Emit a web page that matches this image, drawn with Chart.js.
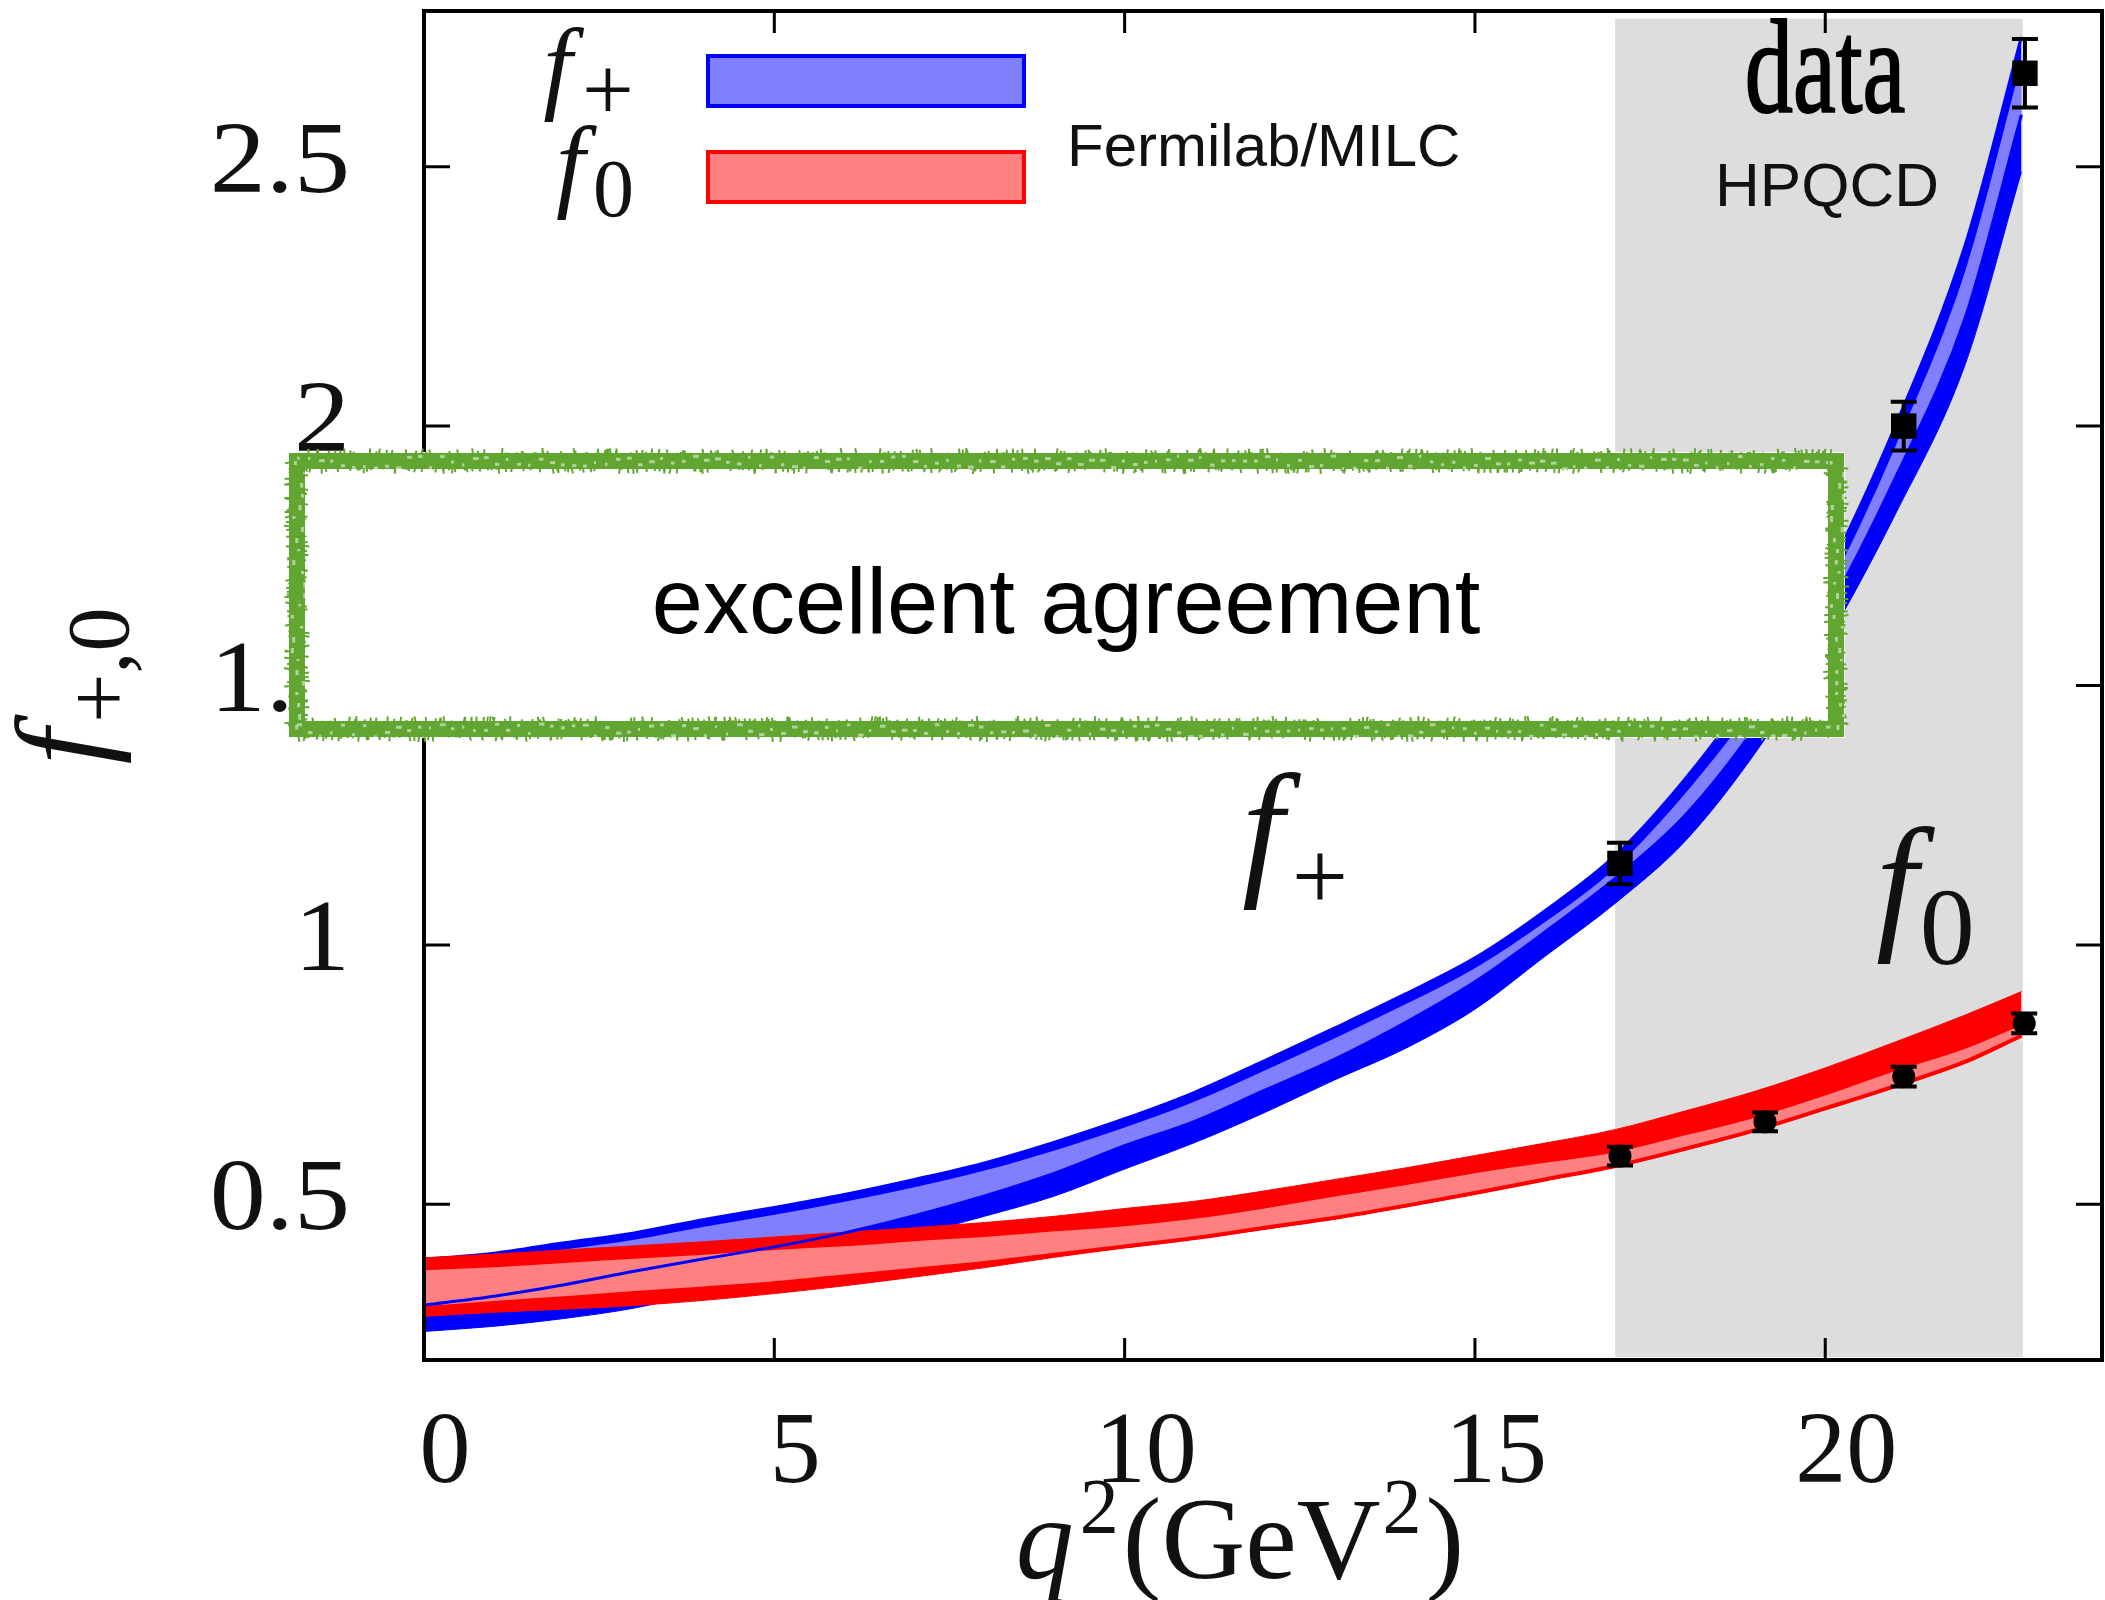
<!DOCTYPE html>
<html>
<head>
<meta charset="utf-8">
<title>Factores de forma f+ y f0</title>
<script src="https://cdn.jsdelivr.net/npm/chart.js@4.4.1/dist/chart.umd.min.js"></script>
<style>
  html, body { margin: 0; padding: 0; background: #fff; }
  #grafico { display: block; }
</style>
</head>
<body>
<canvas id="grafico" width="2105" height="1600"></canvas>
<script>
// q^2 (GeV^2) donde se leen las bandas
const q2 = [0, 1, 2, 3, 4, 5, 6, 7, 8, 9, 10, 11, 12, 13, 14, 15, 16, 17, 18, 19, 20, 21, 22, 22.8];

// banda f+ (Fermilab/MILC): borde exterior y zona clara interior
const fpAlto   = [0.394, 0.406, 0.426, 0.445, 0.471, 0.494, 0.519, 0.548, 0.580, 0.620, 0.665, 0.716, 0.777, 0.840, 0.905, 0.975, 1.066, 1.172, 1.320, 1.500, 1.710, 2.000, 2.350, 2.750];
const fpBajo   = [0.255, 0.265, 0.280, 0.300, 0.330, 0.360, 0.400, 0.440, 0.477, 0.516, 0.568, 0.619, 0.677, 0.740, 0.800, 0.876, 0.978, 1.080, 1.200, 1.370, 1.580, 1.830, 2.120, 2.490];
const fpInAlto = [0.382, 0.394, 0.413, 0.432, 0.457, 0.480, 0.505, 0.533, 0.565, 0.604, 0.648, 0.698, 0.758, 0.820, 0.885, 0.955, 1.044, 1.148, 1.292, 1.465, 1.675, 1.960, 2.300, 2.700];
const fpInBajo = [0.306, 0.323, 0.345, 0.371, 0.395, 0.418, 0.445, 0.478, 0.516, 0.560, 0.613, 0.660, 0.720, 0.780, 0.850, 0.929, 1.025, 1.128, 1.250, 1.420, 1.635, 1.900, 2.210, 2.600];

// banda f0 (Fermilab/MILC)
const f0Alto   = [0.397, 0.404, 0.412, 0.420, 0.428, 0.437, 0.446, 0.455, 0.465, 0.477, 0.492, 0.506, 0.526, 0.548, 0.570, 0.594, 0.618, 0.644, 0.680, 0.718, 0.763, 0.813, 0.865, 0.910];
const f0InAlto = [0.373, 0.379, 0.387, 0.395, 0.403, 0.412, 0.419, 0.429, 0.437, 0.448, 0.458, 0.472, 0.492, 0.515, 0.537, 0.560, 0.580, 0.600, 0.633, 0.667, 0.710, 0.757, 0.800, 0.845];
const f0InBajo = [0.300, 0.310, 0.319, 0.329, 0.338, 0.348, 0.361, 0.374, 0.387, 0.403, 0.419, 0.435, 0.455, 0.474, 0.497, 0.522, 0.548, 0.574, 0.607, 0.643, 0.685, 0.728, 0.775, 0.825];
const f0Bajo   = [0.284, 0.292, 0.298, 0.305, 0.315, 0.328, 0.343, 0.360, 0.378, 0.398, 0.416, 0.433, 0.452, 0.472, 0.495, 0.520, 0.546, 0.572, 0.605, 0.641, 0.683, 0.726, 0.773, 0.823];

// puntos HPQCD
const fpQ = [17.07, 21.12, 22.85];
const fpVal = [1.157, 2.000, 2.680];
const fpErr = [0.040, 0.047, 0.066];
const f0Q = [17.07, 19.14, 21.12, 22.84];
const f0Val = [0.593, 0.659, 0.746, 0.849];
const f0Err = [0.018, 0.018, 0.019, 0.019];

// rango de q^2 cubierto por los datos (franja gris)
const rangoDatos = [17, 22.82];

// marcas de los ejes
const xTicks = [0, 5, 10, 15, 20];
const yTicks = [0.5, 1, 1.5, 2, 2.5];
const yTickLabels = ['0.5', '1', '1.5', '2', '2.5'];

const serif = '"Liberation Serif", "DejaVu Serif", serif';
const sans = '"Liberation Sans", Arial, sans-serif';

const puntos = (xs, ys) => xs.map((x, i) => ({ x: x, y: ys[i] }));

// cada borde de banda es una linea; la de abajo rellena hasta la anterior
const borde = (ys, color, ancho, relleno, orden) => ({
  data: puntos(q2, ys),
  borderColor: ancho > 0 ? color : 'rgba(0,0,0,0)',
  borderWidth: ancho,
  backgroundColor: relleno || 'rgba(0,0,0,0)',
  fill: relleno ? '-1' : false,
  pointRadius: 0,
  cubicInterpolationMode: 'monotone',
  order: orden
});

// texto con subindices / superindices
function textoRico(ctx, partes, x, y, alinear) {
  let ancho = 0;
  partes.forEach(p => {
    ctx.font = p.f;
    p.w = ctx.measureText(p.t).width + (p.dx || 0);
    ancho += p.w;
  });
  let cx = alinear === 'center' ? x - ancho / 2 : (alinear === 'right' ? x - ancho : x);
  ctx.textAlign = 'left';
  ctx.textBaseline = 'alphabetic';
  partes.forEach(p => {
    ctx.font = p.f;
    ctx.fillText(p.t, cx + (p.dx || 0), y + (p.dy || 0));
    cx += p.w;
  });
}

// trazo "a mano" para el recuadro verde: linea gruesa + pelitos cortos
function bordeRugoso(ctx, x0, y0, x1, y1, grosor, color) {
  let semilla = 7;
  const azar = () => { semilla = (semilla * 16807) % 2147483647; return semilla / 2147483647; };
  ctx.strokeStyle = color;
  ctx.lineWidth = grosor;
  ctx.strokeRect(x0, y0, x1 - x0, y1 - y0);
  ctx.lineWidth = 2;
  ctx.beginPath();
  const lados = [
    [x0, y0, x1, y0, 0, 1], [x0, y1, x1, y1, 0, 1],
    [x0, y0, x0, y1, 1, 0], [x1, y0, x1, y1, 1, 0]
  ];
  lados.forEach(([ax, ay, bx, by, nx, ny]) => {
    const largo = Math.hypot(bx - ax, by - ay);
    for (let s = 0; s < largo; s += 3) {
      const t = s / largo;
      const cx = ax + (bx - ax) * t, cy = ay + (by - ay) * t;
      const m = grosor / 2 + azar() * 5;
      const lado = azar() < 0.5 ? -1 : 1;
      const inclina = (azar() - 0.5) * 6;
      ctx.moveTo(cx, cy);
      ctx.lineTo(cx + nx * m * lado + ny * inclina, cy + ny * m * lado + nx * inclina);
    }
  });
  ctx.stroke();
  // motitas blancas dentro del trazo
  ctx.fillStyle = 'rgba(255,255,255,0.5)';
  lados.forEach(([ax, ay, bx, by, nx, ny]) => {
    const largo = Math.hypot(bx - ax, by - ay);
    for (let s = 0; s < largo; s += 11) {
      const t = s / largo;
      const off = (azar() - 0.5) * grosor * 0.8;
      const cx = ax + (bx - ax) * t + nx * off, cy = ay + (by - ay) * t + ny * off;
      ctx.fillRect(cx, cy, 2 + azar() * 4 * ny + nx, 2 + azar() * 4 * nx + ny);
    }
  });
}

const decoracion = {
  id: 'decoracion',
  beforeDatasetsDraw(chart) {
    const ctx = chart.ctx;
    const xs = chart.scales.x, ys = chart.scales.y;
    const a = chart.chartArea;
    ctx.save();
    ctx.fillStyle = '#dddddd';
    const x0 = xs.getPixelForValue(rangoDatos[0]);
    const x1 = xs.getPixelForValue(rangoDatos[1]);
    const y0 = ys.getPixelForValue(2.785);
    ctx.fillRect(x0, y0, x1 - x0, a.bottom - y0 - 3);
    ctx.restore();
  },
  afterDatasetsDraw(chart) {
    const ctx = chart.ctx;
    const xs = chart.scales.x, ys = chart.scales.y;
    ctx.save();
    ctx.strokeStyle = '#000';
    // barras de error
    const barras = (qs, vals, errs, cap) => {
      qs.forEach((q, i) => {
        const x = xs.getPixelForValue(q);
        const yA = ys.getPixelForValue(vals[i] + errs[i]);
        const yB = ys.getPixelForValue(vals[i] - errs[i]);
        ctx.lineWidth = 4;
        ctx.beginPath();
        ctx.moveTo(x, yA); ctx.lineTo(x, yB);
        ctx.moveTo(x - cap, yA); ctx.lineTo(x + cap, yA);
        ctx.moveTo(x - cap, yB); ctx.lineTo(x + cap, yB);
        ctx.stroke();
      });
    };
    barras(fpQ, fpVal, fpErr, 13);
    barras(f0Q, f0Val, f0Err, 13);
    ctx.restore();
  },
  afterDraw(chart) {
    const ctx = chart.ctx;
    const xs = chart.scales.x, ys = chart.scales.y;
    const a = chart.chartArea;
    ctx.save();

    // marco y marcas hacia adentro
    ctx.strokeStyle = '#000';
    ctx.lineWidth = 4;
    ctx.strokeRect(a.left, a.top, a.right - a.left, a.bottom - a.top);
    ctx.lineWidth = 3;
    ctx.beginPath();
    xTicks.forEach(v => {
      const x = xs.getPixelForValue(v);
      ctx.moveTo(x, a.bottom); ctx.lineTo(x, a.bottom - 22);
      ctx.moveTo(x, a.top); ctx.lineTo(x, a.top + 22);
    });
    yTicks.forEach(v => {
      const y = ys.getPixelForValue(v);
      ctx.moveTo(a.left, y); ctx.lineTo(a.left + 26, y);
      ctx.moveTo(a.right, y); ctx.lineTo(a.right - 26, y);
    });
    ctx.stroke();

    // etiquetas de los ejes
    ctx.fillStyle = '#111';
    ctx.font = '102px ' + serif;
    ctx.textBaseline = 'alphabetic';
    ctx.textAlign = 'center';
    xTicks.forEach(v => ctx.fillText(String(v), xs.getPixelForValue(v) + 21, 1482));
    ctx.textAlign = 'right';
    yTicks.forEach((v, i) => {
      ctx.save();
      ctx.translate(350, ys.getPixelForValue(v) + 25);
      ctx.scale(1.1, 1);
      ctx.fillText(yTickLabels[i], 0, 0);
      ctx.restore();
    });

    // titulo eje x: q^2(GeV^2)
    textoRico(ctx, [
      { t: 'q', f: 'italic 116px ' + serif },
      { t: '2', f: '78px ' + serif, dy: -46, dx: 6 },
      { t: '(GeV', f: '116px ' + serif, dx: 4 },
      { t: '2', f: '78px ' + serif, dy: -46, dx: 2 },
      { t: ')', f: '116px ' + serif, dx: 4 }
    ], 1240, 1578, 'center');

    // titulo eje y: f_{+,0}
    ctx.save();
    ctx.translate(104, 686);
    ctx.rotate(-Math.PI / 2);
    textoRico(ctx, [
      { t: 'f', f: 'italic 128px ' + serif },
      { t: '+,0', f: '88px ' + serif, dy: 24, dx: 6 }
    ], 0, 0, 'center');
    ctx.restore();

    // leyenda
    ctx.fillStyle = '#8080ff';
    ctx.fillRect(708, 56, 316, 50);
    ctx.strokeStyle = '#0000ff';
    ctx.lineWidth = 4;
    ctx.strokeRect(708, 56, 316, 50);
    ctx.fillStyle = '#ff8080';
    ctx.fillRect(708, 152, 316, 50);
    ctx.strokeStyle = '#ff0000';
    ctx.strokeRect(708, 152, 316, 50);

    ctx.fillStyle = '#111';
    textoRico(ctx, [
      { t: 'f', f: 'italic 104px ' + serif },
      { t: '+', f: '92px ' + serif, dy: 20, dx: 10 }
    ], 634, 100, 'right');
    textoRico(ctx, [
      { t: 'f', f: 'italic 104px ' + serif },
      { t: '0', f: '82px ' + serif, dy: 18, dx: 8 }
    ], 634, 198, 'right');

    ctx.font = '60px ' + sans;
    ctx.textAlign = 'left';
    ctx.fillText('Fermilab/MILC', 1067, 166);

    // rotulo de los datos
    ctx.save();
    ctx.translate(1825, 112);
    ctx.scale(0.72, 1);
    ctx.font = '134px ' + serif;
    ctx.textAlign = 'center';
    ctx.fillStyle = '#000';
    ctx.fillText('data', 0, 0);
    ctx.lineWidth = 2;
    ctx.strokeStyle = '#000';
    ctx.strokeText('data', 0, 0);
    ctx.restore();
    ctx.font = '62px ' + sans;
    ctx.textAlign = 'center';
    ctx.fillText('HPQCD', 1827, 206);

    // etiquetas de las curvas
    textoRico(ctx, [
      { t: 'f', f: 'italic 150px ' + serif },
      { t: '+', f: '100px ' + serif, dy: 32, dx: 8 }
    ], 1242, 878, 'left');
    textoRico(ctx, [
      { t: 'f', f: 'italic 150px ' + serif },
      { t: '0', f: '110px ' + serif, dy: 32, dx: 2 }
    ], 1876, 932, 'left');

    // recuadro verde con el comentario
    ctx.fillStyle = '#fff';
    ctx.fillRect(288, 452, 1557, 286);
    bordeRugoso(ctx, 297, 461, 1836, 729, 16, '#62a632');
    ctx.fillStyle = '#000';
    ctx.font = '92px ' + sans;
    ctx.textAlign = 'center';
    ctx.fillText('excellent agreement', 1066, 633);

    ctx.restore();
  }
};

new Chart(document.getElementById('grafico'), {
  type: 'line',
  data: {
    datasets: [
      borde(fpAlto, '#0000ff', 3, null, 10),
      borde(fpBajo, '#0000ff', 1, '#0000ff', 9),
      borde(fpInAlto, '#0000ff', 0, null, 8),
      borde(fpInBajo, '#0000ff', 0, '#8080ff', 7),
      borde(f0Alto, '#ff0000', 1, null, 6),
      borde(f0Bajo, '#ff0000', 1, '#ff0000', 5),
      borde(f0InAlto, '#ff0000', 4, null, 4),
      borde(f0InBajo, '#ff0000', 4, '#ff8080', 3),
      borde(fpInBajo, '#0000ff', 3, null, 2),
      {
        data: puntos(fpQ, fpVal),
        showLine: false,
        pointStyle: 'rect',
        pointRadius: 18,
        backgroundColor: '#000',
        borderWidth: 0,
        order: 1
      },
      {
        data: puntos(f0Q, f0Val),
        showLine: false,
        pointStyle: 'circle',
        pointRadius: 11.5,
        backgroundColor: '#000',
        borderWidth: 0,
        order: 0
      }
    ]
  },
  options: {
    responsive: false,
    animation: false,
    devicePixelRatio: 1,
    layout: { autoPadding: false, padding: { left: 424, top: 11, right: 3, bottom: 240 } },
    plugins: { legend: { display: false }, tooltip: { enabled: false } },
    scales: {
      x: { type: 'linear', min: 0, max: 23.95, display: false },
      y: { type: 'linear', min: 0.2, max: 2.8, display: false }
    }
  },
  plugins: [decoracion]
});
</script>
</body>
</html>
